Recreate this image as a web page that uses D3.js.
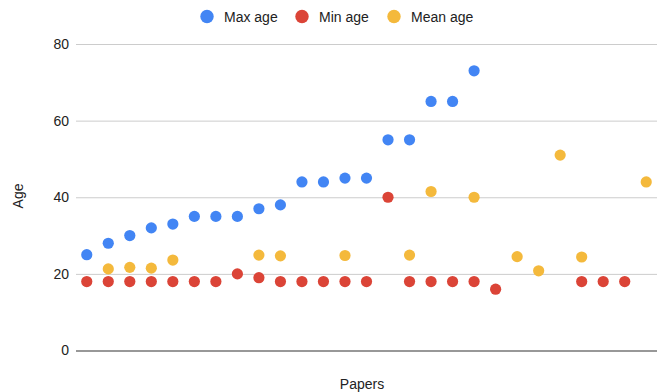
<!DOCTYPE html>
<html>
<head>
<meta charset="utf-8">
<script src="https://cdn.jsdelivr.net/npm/d3@7"></script>
<style>
  html, body { margin: 0; padding: 0; background: #fff; }
  svg { display: block; font-family: "Liberation Sans", Arial, sans-serif; }
</style>
</head>
<body>
<svg id="chart" width="660" height="392"></svg>
<script>
const papers = d3.range(1, 28).map(String);
const maxAge  = [25, 28, 30, 32, 33, 35, 35, 35, 37, 38, 44, 44, 45, 45, 55, 55, 65, 65, 73, null, null, null, null, null, null, null, null];
const minAge  = [18, 18, 18, 18, 18, 18, 18, 20, 19, 18, 18, 18, 18, 18, 40, 18, 18, 18, 18, 16, null, null, null, 18, 18, 18, null];
const meanAge = [null, 21.3, 21.7, 21.5, 23.6, null, null, null, 24.9, 24.7, null, null, 24.8, null, null, 24.9, 41.5, null, 40, null, 24.5, 20.8, 51, 24.4, null, null, 44];
const yTicks = [0, 20, 40, 60, 80];

const seriesDefs = [
  { name: "Max age", values: maxAge, color: "#4285f4" },
  { name: "Min age", values: minAge, color: "#db4437" },
  { name: "Mean age", values: meanAge, color: "#f4b93c" }
];

const svg = d3.select("#chart");
const mLeft = 76, mRight = 657, mTop = 44, mBottom = 350.5;

const x = d3.scaleBand().domain(papers).range([mLeft, mRight]).padding(0);
const y = d3.scaleLinear().domain([0, 80]).range([mBottom, mTop]);

// gridlines
const yAxis = d3.axisLeft(y).tickValues(yTicks).tickSize(-(mRight - mLeft)).tickPadding(7);
const gy = svg.append("g").attr("transform", `translate(${mLeft},0)`).call(yAxis);
gy.select(".domain").remove();
gy.selectAll(".tick line").attr("stroke", d => d === 0 ? "#333" : "#ccc").attr("stroke-width", d => d === 0 ? 1.2 : 1);
gy.selectAll(".tick text").attr("fill", "#222").attr("font-size", 14).attr("font-family", "'Liberation Sans', Arial, sans-serif");
gy.selectAll(".tick").filter(d => d === 0).raise();

// points
seriesDefs.forEach(s => {
  svg.append("g").selectAll("circle")
    .data(s.values.map((v, i) => ({ v, p: papers[i] })).filter(d => d.v != null))
    .join("circle")
    .attr("cx", d => x(d.p) + x.bandwidth() / 2)
    .attr("cy", d => y(d.v))
    .attr("r", 5.6)
    .attr("fill", s.color);
});

// axis titles
svg.append("text").attr("x", 362).attr("y", 389).attr("text-anchor", "middle")
  .attr("font-size", 14).attr("fill", "#222").text("Papers");
svg.append("text").attr("transform", "translate(23,196) rotate(-90)").attr("text-anchor", "middle")
  .attr("font-size", 14).attr("fill", "#222").text("Age");

// legend
const legendX = [207, 302, 394];
const lg = svg.append("g");
seriesDefs.forEach((s, i) => {
  lg.append("circle").attr("cx", legendX[i]).attr("cy", 16.5).attr("r", 6.7).attr("fill", s.color);
  lg.append("text").attr("x", legendX[i] + 17).attr("y", 21.5).attr("font-size", 14).attr("fill", "#222").text(s.name);
});
</script>
</body>
</html>
